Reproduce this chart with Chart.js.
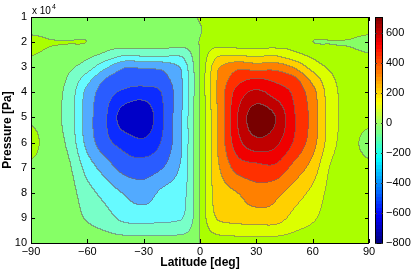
<!DOCTYPE html>
<html>
<head>
<meta charset="utf-8">
<script src="https://cdn.jsdelivr.net/npm/chart.js@4.4.1/dist/chart.umd.min.js"></script>
<style>
  html, body { margin: 0; padding: 0; background: #fff; }
  #wrap { position: relative; width: 411px; height: 270px; }
  #main { position: absolute; left: 0; top: 0; }
  #cbar { position: absolute; left: 340px; top: 0; }
</style>
</head>
<body>
<div id="wrap">
  <canvas id="main" width="411" height="270"></canvas>
  <canvas id="cbar" width="71" height="270"></canvas>
</div>
<script>
// grid of the field (latitude columns, pressure rows in 1e4 Pa)
const latGrid = [-90, -80, -70, -60, -50, -40, -30, -20, -10, -5, 0, 5, 10, 20, 30, 40, 50, 60, 70, 80, 90];
const presGrid = [1, 1.5, 2, 2.5, 3, 3.5, 4, 5, 6, 7, 8, 9, 10];

// values, one row per pressure level
const p1_0  = [-60, -60, -50, -40, -30, -30, -30, -30, -30, -30, 10, 30, 25, 30, 30, 30, 30, 40, 50, 60, 60];
const p1_5  = [-30, -40, -40, -50, -40, -40, -35, -35, -35, -35, -10, 35, 30, 35, 35, 35, 40, 50, 40, 40, 30];
const p2_0  = [30, 5, 1, -1, -60, -40, -40, -40, -50, -50, 3, 50, 50, 40, 40, 40, 60, 1, -1.5, -5, -30];
const p2_5  = [5, -20, -30, -70, -120, -180, -170, -170, -180, -110, 0, 110, 180, 180, 170, 180, 125, 75, 30, 20, 5];
const p3_0  = [-40, -50, -80, -150, -280, -390, -380, -370, -290, -160, 0, 160, 290, 370, 350, 360, 290, 160, 80, 50, 40];
const p3_5  = [-60, -60, -110, -260, -410, -460, -450, -440, -320, -170, 0, 170, 320, 460, 510, 480, 430, 270, 120, 60, 60];
const p4_0  = [-60, -65, -130, -330, -460, -520, -550, -495, -330, -170, 0, 170, 330, 540, 620, 560, 485, 340, 140, 65, 60];
const p5_0  = [-20, -60, -140, -350, -490, -660, -680, -515, -320, -165, 0, 165, 320, 595, 760, 705, 515, 365, 150, 60, 30];
const p6_0  = [35, -50, -120, -330, -470, -540, -580, -490, -320, -165, 0, 165, 320, 560, 670, 630, 495, 345, 140, 40, -30];
const p7_0  = [-20, -50, -80, -240, -350, -440, -450, -405, -290, -160, 0, 160, 290, 440, 470, 480, 370, 260, 90, 50, 20];
const p8_0  = [-50, -55, -60, -160, -240, -310, -350, -280, -240, -160, 0, 160, 250, 300, 360, 330, 255, 175, 70, 55, 50];
const p9_0  = [-50, -55, -55, -110, -160, -230, -240, -230, -210, -140, 0, 140, 215, 240, 250, 250, 170, 115, 60, 55, 50];
const p10_0 = [-40, -45, -45, -50, -60, -60, -60, -60, -60, -50, 0, 50, 60, 65, 70, 65, 60, 50, 45, 45, 40];

const latTicks = [-90, -60, -30, 0, 30, 60, 90];
const presTicks = [1, 2, 3, 4, 5, 6, 7, 8, 9, 10];
const cbTicks = [-800, -600, -400, -200, 0, 200, 400, 600];
const cbMin = -800, cbMax = 705;
const levelStep = 100;

const field = [p1_0, p1_5, p2_0, p2_5, p3_0, p3_5, p4_0, p5_0, p6_0, p7_0, p8_0, p9_0, p10_0];

// fill colour of each band, from -800..-700 up to 700+
const bandColors = ['#00008f', '#0000c8', '#0c2cff', '#2a5cff', '#52aaff', '#66faff', '#78ffc8', '#86ff66',
                    '#aaff00', '#dcff00', '#ffd000', '#ff8000', '#ff3000', '#f00000', '#c00000', '#780000'];

const FONT = 'Liberation Sans, Arial, Helvetica, sans-serif';
const fmt = v => String(v).replace('-', '\u2212');

function idxOf(arr, v) {
  if (v <= arr[0]) return 0;
  for (let k = 0; k < arr.length - 1; k++) {
    if (v <= arr[k + 1]) return k + (v - arr[k]) / (arr[k + 1] - arr[k]);
  }
  return arr.length - 1;
}
function cr(a, b, c, d, t) {
  return 0.5 * (2 * b + (-a + c) * t + (2 * a - 5 * b + 4 * c - d) * t * t + (-a + 3 * b - 3 * c + d) * t * t * t);
}
function sample(fi, fj) {
  const nr = field.length, nc = field[0].length;
  const i = Math.min(Math.floor(fi), nr - 2), j = Math.min(Math.floor(fj), nc - 2);
  const ti = fi - i, tj = fj - j;
  const rv = [];
  for (let a = -1; a <= 2; a++) {
    const r = field[Math.max(0, Math.min(nr - 1, i + a))];
    const c = k => r[Math.max(0, Math.min(nc - 1, k))];
    rv.push(cr(c(j - 1), c(j), c(j + 1), c(j + 2), tj));
  }
  return cr(rv[0], rv[1], rv[2], rv[3], ti);
}
function hexRgb(h) { return [parseInt(h.substr(1, 2), 16), parseInt(h.substr(3, 2), 16), parseInt(h.substr(5, 2), 16)]; }
function jet(t) {
  const cl = v => Math.max(0, Math.min(1, v));
  return [cl(1.5 - Math.abs(4 * t - 3)), cl(1.5 - Math.abs(4 * t - 2)), cl(1.5 - Math.abs(4 * t - 1))].map(v => Math.round(v * 255));
}

// filled contours + contour lines
const contourFill = {
  id: 'contourFill',
  beforeDatasetsDraw(chart) {
    const { ctx, chartArea: a, scales: { x, y } } = chart;
    const L = Math.round(a.left), T = Math.round(a.top);
    const W = Math.round(a.right) - L, H = Math.round(a.bottom) - T;
    const band = new Int8Array(W * H);
    const fjs = [];
    for (let px = 0; px < W; px++) fjs.push(idxOf(latGrid, x.getValueForPixel(L + px + 0.5)));
    for (let py = 0; py < H; py++) {
      const fi = idxOf(presGrid, y.getValueForPixel(T + py + 0.5));
      for (let px = 0; px < W; px++) {
        const b = Math.floor(sample(fi, fjs[px]) / levelStep);
        band[py * W + px] = Math.max(-8, Math.min(7, b));
      }
    }
    const rgbs = bandColors.map(hexRgb);
    const img = ctx.createImageData(W, H);
    for (let py = 0; py < H; py++) {
      for (let px = 0; px < W; px++) {
        const k = py * W + px, b = band[k];
        const edge = (px < W - 1 && band[k + 1] !== b) || (py < H - 1 && band[k + W] !== b);
        let c = rgbs[b + 8];
        if (edge) c = c.map(v => Math.round(v * 0.4 + 110 * 0.6));
        img.data[k * 4] = c[0]; img.data[k * 4 + 1] = c[1]; img.data[k * 4 + 2] = c[2]; img.data[k * 4 + 3] = 255;
      }
    }
    ctx.putImageData(img, L, T);
  },
  afterDraw(chart) {
    const { ctx, chartArea: a, scales: { x, y } } = chart;
    ctx.save();
    ctx.strokeStyle = '#000';
    ctx.lineWidth = 1;
    ctx.strokeRect(Math.round(a.left) + 0.5, Math.round(a.top) + 0.5, Math.round(a.right - a.left) - 1, Math.round(a.bottom - a.top));
    ctx.beginPath();
    latTicks.forEach(v => {
      const px = Math.round(x.getPixelForValue(v)) + 0.5;
      ctx.moveTo(px, a.top); ctx.lineTo(px, a.top + 4);
      ctx.moveTo(px, a.bottom); ctx.lineTo(px, a.bottom - 4);
    });
    presTicks.forEach(v => {
      const py = Math.round(y.getPixelForValue(v)) + 0.5;
      ctx.moveTo(a.left, py); ctx.lineTo(a.left + 4, py);
      ctx.moveTo(a.right, py); ctx.lineTo(a.right - 4, py);
    });
    ctx.stroke();
    // axis multiplier
    ctx.fillStyle = '#000';
    ctx.textBaseline = 'alphabetic';
    ctx.textAlign = 'left';
    ctx.font = '10px ' + FONT;
    ctx.fillText('x 10', a.left + 1, a.top - 3);
    const w = ctx.measureText('x 10').width;
    ctx.font = '7px ' + FONT;
    ctx.fillText('4', a.left + 1 + w + 1, a.top - 8);
    ctx.restore();
  }
};

const tickFont = { family: FONT, size: 11 };
const titleFont = { family: FONT, size: 12, weight: 'bold' };

new Chart(document.getElementById('main'), {
  type: 'scatter',
  data: { datasets: [] },
  options: {
    responsive: false,
    animation: false,
    layout: { padding: { left: 0, right: 42, top: 17, bottom: 0 } },
    plugins: { legend: { display: false }, tooltip: { enabled: false } },
    scales: {
      x: {
        type: 'linear', min: -90, max: 90,
        afterBuildTicks: s => { s.ticks = latTicks.map(v => ({ value: v })); },
        grid: { display: false, drawTicks: false },
        border: { display: false },
        ticks: { padding: 2, color: '#000', font: tickFont, callback: v => fmt(v), maxRotation: 0, autoSkip: false },
        title: { display: true, text: 'Latitude [deg]', color: '#000', font: titleFont, padding: 0 },
        afterFit: s => { s.height = 27; }
      },
      y: {
        type: 'linear', min: 1, max: 10, reverse: true,
        afterBuildTicks: s => { s.ticks = presTicks.map(v => ({ value: v })); },
        grid: { display: false, drawTicks: false },
        border: { display: false },
        ticks: { padding: 4, color: '#000', font: tickFont, autoSkip: false },
        title: { display: true, text: 'Pressure [Pa]', color: '#000', font: titleFont, padding: 0 },
        afterFit: s => { s.width = 31; }
      }
    }
  },
  plugins: [contourFill]
});

// colour bar
const colorbarFill = {
  id: 'colorbarFill',
  beforeDatasetsDraw(chart) {
    const { ctx, chartArea: a, scales: { y } } = chart;
    const L = Math.round(a.left), R = Math.round(a.right);
    for (let py = Math.round(a.top); py < Math.round(a.bottom); py++) {
      const v = y.getValueForPixel(py + 0.5);
      const k = Math.max(0, Math.min(63, Math.floor((v - cbMin) / (cbMax - cbMin) * 64)));
      const c = jet((k + 0.5) / 64);
      ctx.fillStyle = 'rgb(' + c.join(',') + ')';
      ctx.fillRect(L, py, R - L, 1);
    }
  },
  afterDraw(chart) {
    const { ctx, chartArea: a, scales: { y } } = chart;
    ctx.save();
    ctx.strokeStyle = '#000';
    ctx.lineWidth = 1;
    ctx.strokeRect(Math.round(a.left) + 0.5, Math.round(a.top) + 0.5, Math.round(a.right - a.left) - 1, Math.round(a.bottom - a.top));
    ctx.strokeStyle = '#333';
    ctx.beginPath();
    cbTicks.forEach(v => {
      const py = Math.round(y.getPixelForValue(v)) + 0.5;
      ctx.moveTo(a.left, py); ctx.lineTo(a.left + 2, py);
      ctx.moveTo(a.right, py); ctx.lineTo(a.right - 2, py);
    });
    ctx.stroke();
    ctx.restore();
  }
};

new Chart(document.getElementById('cbar'), {
  type: 'scatter',
  data: { datasets: [] },
  options: {
    responsive: false,
    animation: false,
    layout: { padding: { left: 35, right: 0, top: 17, bottom: 27 } },
    plugins: { legend: { display: false }, tooltip: { enabled: false } },
    scales: {
      x: { type: 'linear', display: false, min: 0, max: 1 },
      y: {
        type: 'linear', position: 'right', min: cbMin, max: cbMax,
        afterBuildTicks: s => { s.ticks = cbTicks.map(v => ({ value: v })); },
        grid: { display: false, drawTicks: false },
        border: { display: false },
        ticks: { padding: 3, color: '#000', font: tickFont, callback: v => fmt(v), autoSkip: false },
        afterFit: s => { s.width = 28; }
      }
    }
  },
  plugins: [colorbarFill]
});
</script>
</body>
</html>
